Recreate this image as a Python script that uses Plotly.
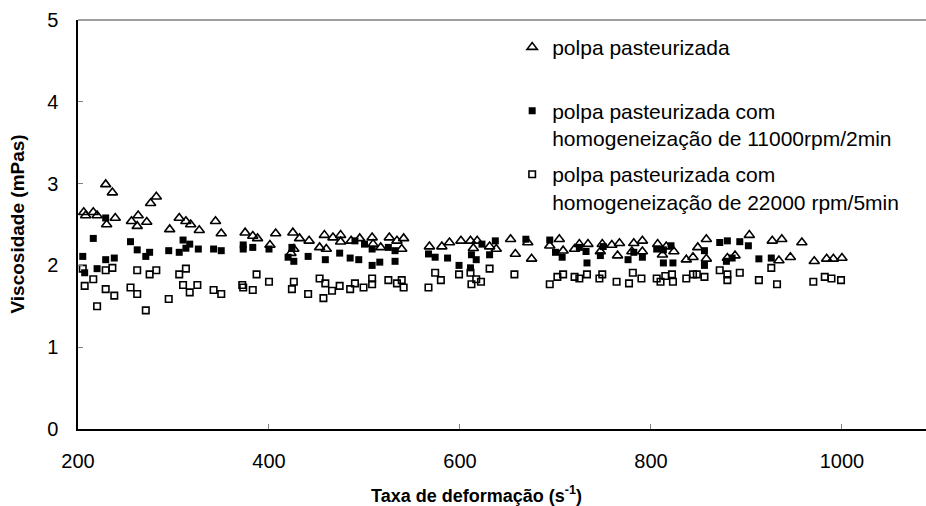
import plotly.graph_objects as go

# --- data ---
x_past = [199, 206, 208, 216, 220, 229, 236, 230, 239, 256, 263, 262, 272, 276, 282, 296, 306, 313, 318, 327,
          344, 350, 375, 383, 388, 401, 407, 423, 425, 426, 432, 442, 453, 458, 460, 467, 475, 475, 486, 495,
          508, 509, 517, 526, 534, 539, 541, 568, 581, 589, 601, 611, 614, 618, 631, 638, 653, 658, 671, 675,
          694, 704, 708, 720, 725, 734, 747, 749, 759, 765, 767, 780, 782, 791, 791, 807, 812, 816, 824, 837,
          844, 849, 858, 858, 880, 888, 903, 927, 934, 937, 946, 958, 971, 984, 991, 1000]
y_past = [2.54, 2.65, 2.61, 2.65, 2.61, 2.99, 2.89, 2.50, 2.58, 2.54, 2.61, 2.48, 2.53, 2.76, 2.84, 2.44, 2.58, 2.54, 2.50, 2.43,
          2.54, 2.39, 2.40, 2.36, 2.33, 2.25, 2.39, 2.15, 2.40, 2.20, 2.33, 2.30, 2.22, 2.37, 2.20, 2.34, 2.37, 2.29, 2.30, 2.33,
          2.34, 2.26, 2.22, 2.34, 2.30, 2.20, 2.33, 2.23, 2.23, 2.28, 2.30, 2.30, 2.21, 2.30, 2.23, 2.20, 2.32, 2.14, 2.28, 2.08,
          2.24, 2.32, 2.18, 2.20, 2.26, 2.26, 2.17, 2.26, 2.25, 2.12, 2.27, 2.17, 2.27, 2.30, 2.17, 2.26, 2.13, 2.23, 2.17, 2.07,
          2.10, 2.22, 2.32, 2.08, 2.09, 2.12, 2.37, 2.30, 2.06, 2.32, 2.10, 2.28, 2.05, 2.08, 2.08, 2.09]

x_11000 = [216, 205, 207, 220, 229, 229, 238, 255, 262, 271, 275, 295, 306, 310, 313, 317, 326, 342, 350, 373,
           373, 383, 400, 420, 426, 424, 441, 459, 474, 485, 494, 490, 500, 508, 508, 516, 525, 532, 532, 567,
           574, 587, 599, 611, 612, 617, 623, 631, 637, 669, 694, 700, 707, 725, 732, 733, 747, 750, 776, 782,
           791, 806, 813, 821, 813, 823, 856, 856, 872, 880, 879, 885, 893, 902, 913, 926]
y_11000 = [2.33, 2.11, 1.91, 1.96, 2.58, 2.07, 2.09, 2.29, 2.19, 2.11, 2.16, 2.18, 2.16, 2.31, 2.21, 2.26, 2.20, 2.20, 2.18, 2.25,
           2.20, 2.22, 2.20, 2.10, 2.05, 2.22, 2.11, 2.07, 2.15, 2.09, 2.07, 2.30, 2.26, 2.00, 2.20, 2.04, 2.22, 2.05, 2.18, 2.14,
           2.10, 2.09, 2.00, 1.97, 2.13, 2.07, 2.26, 2.13, 2.30, 2.32, 2.31, 2.16, 2.10, 2.22, 2.17, 2.03, 2.12, 2.23, 2.07, 2.16,
           2.10, 2.20, 2.19, 2.24, 2.03, 2.03, 2.18, 2.00, 2.28, 2.30, 2.05, 2.09, 2.29, 2.24, 2.08, 2.09]

x_22000 = [198, 205, 207, 216, 220, 229, 229, 236, 238, 255, 262, 262, 271, 275, 282, 295, 306, 313, 310, 317,
           325, 342, 350, 372, 373, 383, 387, 400, 424, 426, 441, 453, 459, 457, 466, 474, 485, 490, 499, 508,
           508, 525, 534, 539, 541, 567, 574, 580, 599, 611, 612, 617, 622, 631, 657, 694, 702, 708, 720, 725,
           733, 746, 749, 764, 777, 781, 790, 806, 810, 815, 822, 823, 837, 844, 848, 856, 872, 880, 880, 893,
           913, 926, 932, 970, 982, 989, 999]
y_22000 = [1.80, 1.96, 1.75, 1.83, 1.50, 1.94, 1.71, 1.97, 1.63, 1.73, 1.94, 1.65, 1.45, 1.89, 1.94, 1.59, 1.89, 1.96, 1.76, 1.67,
           1.76, 1.70, 1.65, 1.76, 1.73, 1.70, 1.89, 1.80, 1.71, 1.80, 1.65, 1.84, 1.78, 1.60, 1.69, 1.75, 1.71, 1.78, 1.73, 1.84,
           1.77, 1.82, 1.78, 1.82, 1.73, 1.73, 1.91, 1.82, 1.89, 1.91, 1.77, 1.83, 1.80, 1.96, 1.89, 1.77, 1.86, 1.89, 1.86, 1.84,
           1.89, 1.84, 1.89, 1.80, 1.78, 1.91, 1.84, 1.84, 1.80, 1.87, 1.89, 1.80, 1.84, 1.89, 1.89, 1.86, 1.94, 1.89, 1.82, 1.91,
           1.82, 1.97, 1.77, 1.80, 1.86, 1.84, 1.82]

names = ["polpa pasteurizada<br> ",
         "polpa pasteurizada com<br>homogeneização de 11000rpm/2min",
         "polpa pasteurizada com<br>homogeneização de 22000 rpm/5min"]
x_ticks = [200, 400, 600, 800, 1000]
y_ticks = [0, 1, 2, 3, 4, 5]
x_title = "Taxa de deformação (s<sup>-1</sup>)"
y_title = "Viscosidade (mPas)"

FONT = "Liberation Sans, Arial, sans-serif"

fig = go.Figure()
fig.add_trace(go.Scatter(x=x_past, y=y_past, mode="markers", name=names[0], legendgroup="a",
                         marker=dict(symbol="triangle-up-open", size=9, color="black", line=dict(width=1.6, color="black"))))
fig.add_trace(go.Scatter(x=x_11000, y=y_11000, mode="markers", name=names[1], legendgroup="b",
                         marker=dict(symbol="square", size=7, color="black", line=dict(width=0))))
fig.add_trace(go.Scatter(x=x_22000, y=y_22000, mode="markers", name=names[2], legendgroup="c",
                         marker=dict(symbol="square-open", size=6.5, color="black", line=dict(width=1.6, color="black"))))
for tr in fig.data:
    tr.cliponaxis = False

fig.add_shape(type="line", xref="paper", yref="paper", x0=0, x1=1, y0=1, y1=1,
              line=dict(color="#7f7f7f", width=1.5))

fig.add_annotation(text="<b>" + x_title + "</b>", xref="paper", yref="paper",
                   x=(476 - 78) / 848, y=(429 - 494) / 409, xanchor="center", yanchor="middle",
                   showarrow=False, font=dict(family=FONT, size=18, color="black"))
fig.add_annotation(text="<b>" + y_title + "</b>", xref="paper", yref="paper", textangle=-90,
                   x=(17 - 78) / 848, y=0.5, xanchor="center", yanchor="middle",
                   showarrow=False, font=dict(family=FONT, size=19, color="black"))

fig.update_layout(
    width=926, height=506,
    margin=dict(l=78, r=0, t=20, b=77),
    paper_bgcolor="white", plot_bgcolor="white",
    font=dict(family=FONT, size=20, color="black"),
    showlegend=True,
    legend=dict(x=0.512, y=0.983, xanchor="left", yanchor="top", bgcolor="rgba(0,0,0,0)",
                font=dict(family=FONT, size=21, color="black"), valign="top",
                traceorder="grouped", tracegroupgap=6),
    xaxis=dict(range=[200, 1088], tickvals=x_ticks, ticktext=[str(v) for v in x_ticks],
               showgrid=False, zeroline=False, showline=True, linecolor="black", linewidth=1.5,
               ticks="inside", ticklen=5, tickcolor="#808080", tickwidth=1,
               ticklabelstandoff=13, tickfont=dict(size=20)),
    yaxis=dict(range=[0, 5], tickvals=y_ticks, ticktext=[str(v) for v in y_ticks],
               showgrid=False, zeroline=False, showline=True, linecolor="black", linewidth=1.5,
               ticks="inside", ticklen=5, tickcolor="#808080", tickwidth=1,
               ticklabelstandoff=14, tickfont=dict(size=20)),
)

fig.write_html("out.html", config={"displayModeBar": False},
               post_script="document.body.style.margin='0px';")
